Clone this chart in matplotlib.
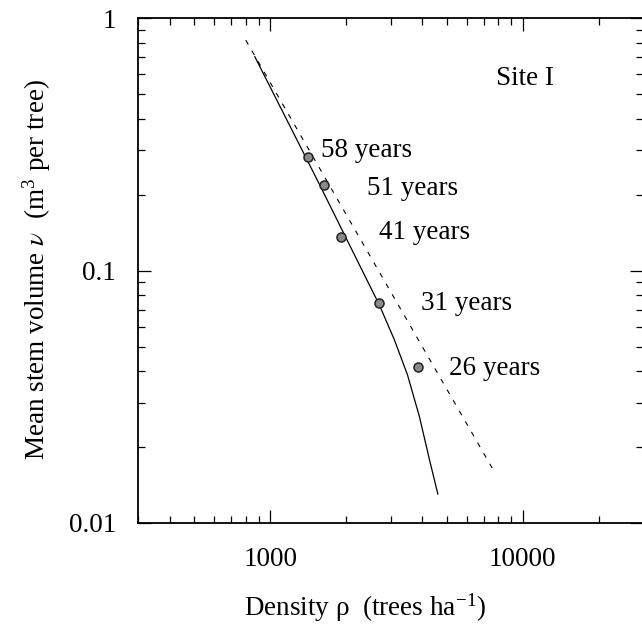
import numpy as np
import matplotlib
matplotlib.use('Agg')
import matplotlib.pyplot as plt
from matplotlib.ticker import LogLocator, FixedLocator, FuncFormatter, NullFormatter

plt.rcParams.update({
    'font.family': ['Liberation Serif', 'DejaVu Serif'],
    'mathtext.fontset': 'stix',
    'font.size': 19.5,
})

# ── Data ──
# observed stand ages (years), density (trees/ha), mean stem volume (m^3/tree)
ages = [58, 51, 41, 31, 26]
obs_density = [1415, 1638, 1909, 2690, 3841]
obs_volume = [0.282, 0.218, 0.136, 0.0741, 0.0416]

# fitted trajectory (solid curve)
fit_density = [870, 1537, 2707, 3105, 3498, 3902, 4276, 4612]
fit_volume = [0.703, 0.2283, 0.0730, 0.0531, 0.0386, 0.0263, 0.01777, 0.01303]

# self-thinning boundary (dashed line)
bound_density = [801, 7620]
bound_volume = [0.818, 0.01632]

# label anchors (left edge, centre) per age
label_density = [1594, 2426, 2708, 3963, 5129]
label_volume = [0.300, 0.212, 0.142, 0.0740, 0.0411]

fig = plt.figure(figsize=(6.42, 6.28), dpi=100)
ax = fig.add_axes([0.215, 0.1672, 0.787, 0.804])

ax.set_xscale('log')
ax.set_yscale('log')
ax.set_xlim(300, 30000)
ax.set_ylim(0.01, 1)

ax.plot(fit_density, fit_volume, color='black', lw=0.9, zorder=2)
ax.plot(bound_density, bound_volume, color='black', lw=0.8,
        dashes=(4.5, 6.5), zorder=2)
ax.plot(obs_density, obs_volume, 'o', ms=6.5, mfc='#8a8a8a', mec='#222222',
        mew=1.1, zorder=3)

for a, x, y in zip(ages, label_density, label_volume):
    ax.text(x, y, f'{a} years', ha='left', va='center')

ax.text(0.766, 0.881, 'Site I', transform=ax.transAxes,
        ha='center', va='center')

# ── Ticks: inward, all four sides ──
ax.xaxis.set_major_locator(FixedLocator([1000, 10000]))
ax.xaxis.set_minor_locator(LogLocator(base=10, subs=np.arange(2, 10)))
ax.xaxis.set_major_formatter(FuncFormatter(lambda v, p: f'{v:g}'))
ax.xaxis.set_minor_formatter(NullFormatter())
ax.yaxis.set_major_locator(FixedLocator([0.01, 0.1, 1]))
ax.yaxis.set_minor_locator(LogLocator(base=10, subs=np.arange(2, 10)))
ax.yaxis.set_major_formatter(FuncFormatter(lambda v, p: f'{v:g}'))
ax.yaxis.set_minor_formatter(NullFormatter())

ax.tick_params(which='both', direction='in', top=True, right=True,
               width=0.9, color='black')
ax.tick_params(which='major', length=9.5)
ax.tick_params(which='minor', length=4.8)
ax.tick_params(axis='x', which='major', pad=17)
ax.tick_params(axis='y', which='major', pad=16)

for sp in ax.spines.values():
    sp.set_linewidth(1.3)

fig.text(365 / 642, 1 - 607 / 628,
         'Density \u03c1  (trees ha$^{\\mathregular{-1}}$)',
         ha='center', va='center')
fig.text(37 / 642, 1 - 270 / 628,
         'Mean stem volume $\\nu$  (m$^{\\mathregular{3}}$ per tree)',
         ha='center', va='center', rotation=90)

fig.savefig('out.png', dpi=100)
